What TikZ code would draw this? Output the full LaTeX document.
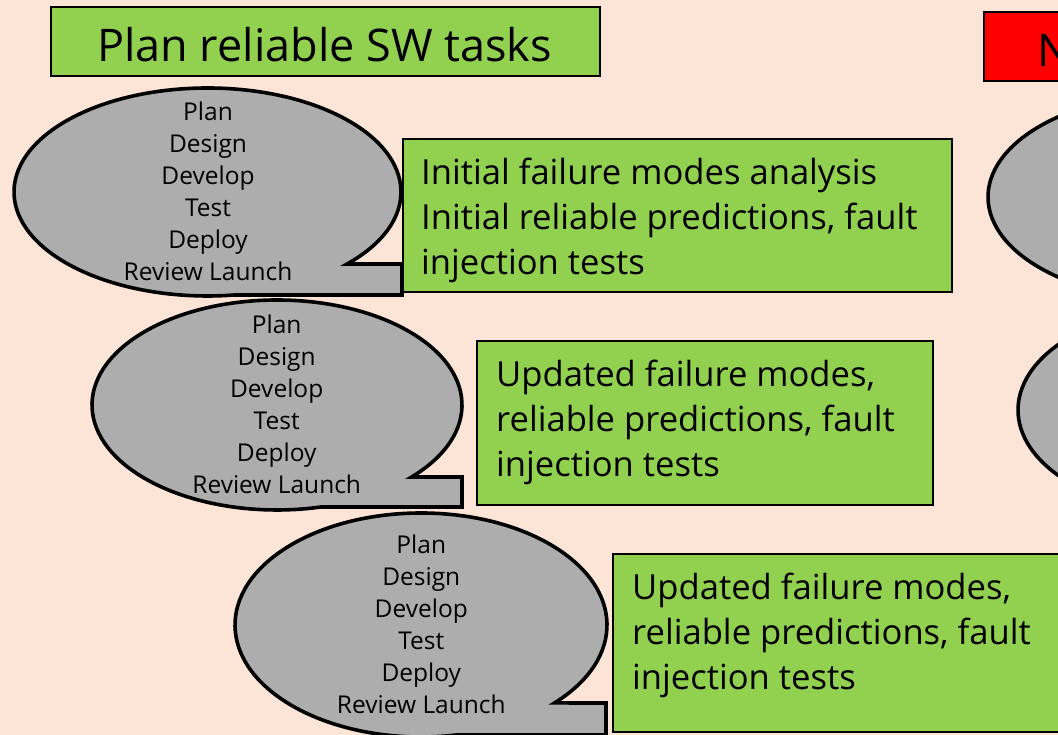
\documentclass[tikz,border=0pt]{standalone}
\usepackage{fontspec}
\setmainfont{Open Sans}
\usetikzlibrary{calc}

\definecolor{peach}{RGB}{252,228,214}
\definecolor{leaf}{RGB}{146,208,80}
\definecolor{stone}{RGB}{173,173,173}
\definecolor{alarm}{RGB}{255,0,0}

\tikzset{
  bubble/.style={draw=black, fill=stone, line width=3.6pt, line join=miter},
  flatbox/.style={draw=black, line width=1.5pt, inner sep=0pt, anchor=south west},
  greenbox/.style={flatbox, fill=leaf},
  redbox/.style={flatbox, fill=alarm},
  headtext/.style={font=\fontsize{45}{52}\selectfont, inner sep=0pt},
  notetext/.style={font=\fontsize{34.6}{45}\selectfont, inner sep=0pt, anchor=base west},
  steptext/.style={font=\fontsize{24.5}{32}\selectfont, inner sep=0pt, anchor=base},
}

\begin{document}
\begin{tikzpicture}[x=1pt,y=1pt]
\useasboundingbox (0,0) rectangle (1058,735);
\fill[peach] (0,0) rectangle (1058,735);
\clip (0,0) rectangle (1058,735);

% headings
\node[greenbox, minimum width=549, minimum height=69] (title) at (50,658) {};
\node[headtext, anchor=base] (titletext) at (324.5,673) {Plan reliable SW tasks};
\node[redbox, minimum width=150, minimum height=69] (next) at (983,653) {};
\node[headtext, anchor=base west] (nexttext) at (1037,668) {N};

% result boxes
\node[greenbox, minimum width=549, minimum height=153] (res1) at (402,442) {};
\node[greenbox, minimum width=456, minimum height=164] (res2) at (476,229) {};
\node[greenbox, minimum width=460, minimum height=178] (res3) at (612,2) {};

\node[notetext] (res1text) at (421,550) {\begin{tabular}[t]{@{}l@{}}Initial failure modes analysis\\Initial reliable predictions, fault\\injection tests\end{tabular}};
\node[notetext] (res2text) at (496,348) {\begin{tabular}[t]{@{}l@{}}Updated failure modes,\\reliable predictions, fault\\injection tests\end{tabular}};
\node[notetext] (res3text) at (632,135) {\begin{tabular}[t]{@{}l@{}}Updated failure modes,\\reliable predictions, fault\\injection tests\end{tabular}};

% oval callouts with a square tail
\draw[bubble] (207.5,543) ++(-43.8:193.5 and 104)
  arc[start angle=-43.8, end angle=278, x radius=193.5, y radius=104]
  -- (402,440) -- (402,471) -- cycle;
\draw[bubble] (277,330) ++(-43.3:185 and 105)
  arc[start angle=-43.3, end angle=283.7, x radius=185, y radius=105]
  -- (462,228) -- (462,258) -- cycle;
\draw[bubble] (421,110) ++(-44.1:186 and 112)
  arc[start angle=-44.1, end angle=280.9, x radius=186, y radius=112]
  -- (606,0) -- (606,32) -- cycle;

% callouts of the second column
\draw[bubble] (1181.5,538) ++(-43.8:193.5 and 104)
  arc[start angle=-43.8, end angle=278, x radius=193.5, y radius=104]
  -- (1376,435) -- (1376,466) -- cycle;
\draw[bubble] (1203,325) ++(-43.3:185 and 105)
  arc[start angle=-43.3, end angle=283.7, x radius=185, y radius=105]
  -- (1388,223) -- (1388,253) -- cycle;

% lifecycle steps
\node[steptext] (steps1) at (208,614.3) {\begin{tabular}[t]{@{}c@{}}Plan\\Design\\Develop\\Test\\Deploy\\Review Launch\end{tabular}};
\node[steptext] (steps2) at (276.7,401.3) {\begin{tabular}[t]{@{}c@{}}Plan\\Design\\Develop\\Test\\Deploy\\Review Launch\end{tabular}};
\node[steptext] (steps3) at (421.3,181.3) {\begin{tabular}[t]{@{}c@{}}Plan\\Design\\Develop\\Test\\Deploy\\Review Launch\end{tabular}};
\end{tikzpicture}
\end{document}
